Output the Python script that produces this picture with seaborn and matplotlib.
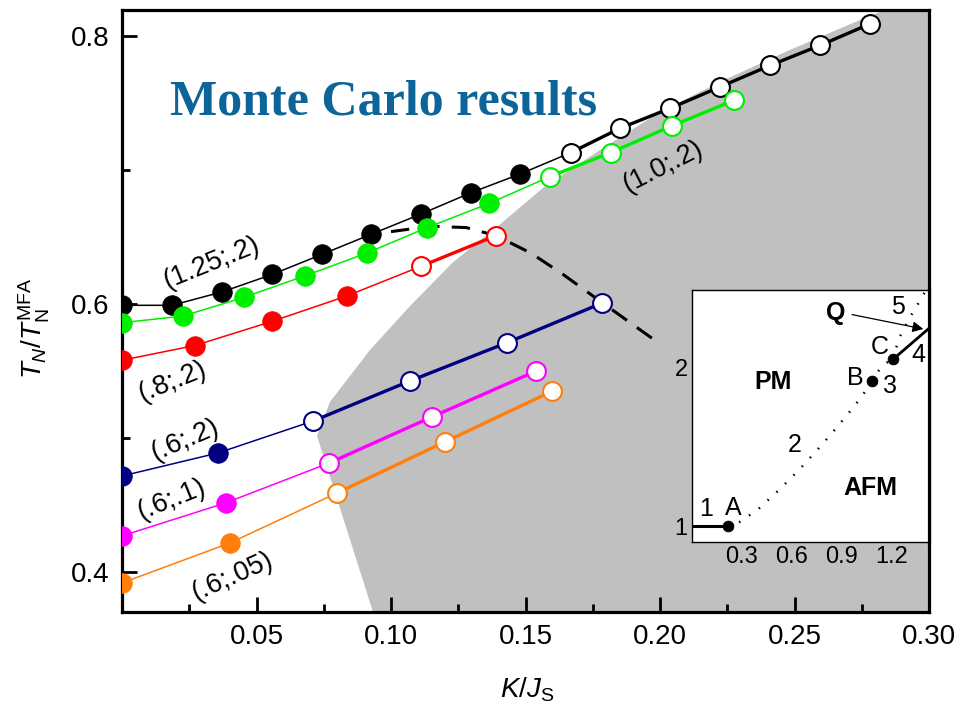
import matplotlib
matplotlib.use("Agg")
import matplotlib.pyplot as plt
import seaborn as sns
import pandas as pd
from matplotlib.ticker import MultipleLocator, FuncFormatter

# ---------------- data ----------------
# (1.25;.2)  black
k_125_fill = [0.0, 0.0186, 0.0372, 0.0558, 0.0743, 0.0926, 0.111, 0.1297, 0.148]
t_125_fill = [0.599, 0.599, 0.609, 0.622, 0.637, 0.652, 0.667, 0.683, 0.697]
k_125_open = [0.1669, 0.185, 0.2037, 0.2223, 0.2409, 0.2595, 0.278]
t_125_open = [0.713, 0.731, 0.746, 0.762, 0.778, 0.793, 0.809]
# (1.0;.2)  green
k_10_fill = [0.0, 0.0227, 0.0454, 0.068, 0.091, 0.1134, 0.1364]
t_10_fill = [0.586, 0.591, 0.605, 0.621, 0.638, 0.657, 0.675]
k_10_open = [0.159, 0.1817, 0.2045, 0.2275]
t_10_open = [0.695, 0.713, 0.733, 0.752]
# (.8;.2)  red
k_08_fill = [0.0, 0.0271, 0.0558, 0.0836]
t_08_fill = [0.558, 0.569, 0.587, 0.606]
k_08_open = [0.111, 0.139]
t_08_open = [0.628, 0.651]
# (.6;.2)  navy
k_0602_fill = [0.0, 0.0357]
t_0602_fill = [0.4716, 0.4888]
k_0602_open = [0.0711, 0.107, 0.143, 0.1785]
t_0602_open = [0.5127, 0.5425, 0.571, 0.6007]
# (.6;.1)  magenta
k_0601_fill = [0.0, 0.0385]
t_0601_fill = [0.4269, 0.4515]
k_0601_open = [0.077, 0.1152, 0.154]
t_0601_open = [0.4813, 0.5157, 0.550]
# (.6;.05)  orange
k_06005_fill = [0.0, 0.0401]
t_06005_fill = [0.3918, 0.4216]
k_06005_open = [0.080, 0.120, 0.160]
t_06005_open = [0.459, 0.497, 0.535]

series_labels = ["(1.25;.2)", "(1.0;.2)", "(.8;.2)", "(.6;.2)", "(.6;.1)", "(.6;.05)"]
series_colors = ["#000000", "#00EE00", "#FF0000", "#000080", "#FF00FF", "#FF7F0A"]

# dashed boundary
k_dash = [0.100, 0.115, 0.128, 0.139, 0.152, 0.164, 0.1785, 0.198]
t_dash = [0.654, 0.658, 0.657, 0.651, 0.638, 0.622, 0.601, 0.573]

# gray region boundary
k_gray = [0.0965, 0.0725, 0.0773, 0.0922, 0.1071, 0.1231, 0.1394, 0.1565, 0.1777,
          0.2000, 0.2223, 0.2483, 0.2743, 0.2855, 0.32, 0.32]
t_gray = [0.350, 0.5015, 0.5269, 0.5657, 0.5985, 0.6313, 0.6575, 0.6866, 0.7149,
          0.7433, 0.7657, 0.7896, 0.8119, 0.8209, 0.83, 0.35]

# inset (phase diagram)
ins_line1_x = [0.0, 0.216]
ins_line1_y = [1.0, 1.0]
ins_dots_x = [0.216, 0.274, 0.398, 0.524, 0.644, 0.760, 0.872, 0.976, 1.026, 1.084]
ins_dots_y = [1.0, 1.017, 1.106, 1.228, 1.354, 1.487, 1.622, 1.755, 1.823, 1.913]
ins_dots3_x = [1.084, 1.13, 1.17, 1.214]
ins_dots3_y = [1.913, 1.99, 2.03, 2.055]
ins_line4_x = [1.214, 1.43]
ins_line4_y = [2.055, 2.25]
ins_dots5_x = [1.214, 1.244, 1.28, 1.314, 1.354, 1.39, 1.42]
ins_dots5_y = [2.055, 2.18, 2.25, 2.32, 2.388, 2.456, 2.50]
ins_pts_x = [0.216, 1.084, 1.214]
ins_pts_y = [1.0, 1.913, 2.055]

# ---------------- style ----------------
sns.set_theme(style="white")
plt.rcParams["font.family"] = ["Liberation Sans", "DejaVu Sans"]
plt.rcParams["mathtext.fontset"] = "custom"
plt.rcParams["mathtext.rm"] = "Liberation Sans"
plt.rcParams["mathtext.it"] = "Liberation Sans:italic"
plt.rcParams["mathtext.bf"] = "Liberation Sans:bold"
for key in ["text.color", "axes.labelcolor", "xtick.color", "ytick.color", "axes.edgecolor"]:
    plt.rcParams[key] = "black"

fig = plt.figure(figsize=(9.6, 7.11), dpi=100)
ax = fig.add_axes([122 / 960, 1 - 612 / 711, 807 / 960, 602 / 711])

ax.fill(k_gray, t_gray, color="#C0C0C0", lw=0, zorder=0)

sns.lineplot(x=k_dash, y=t_dash, ax=ax, color="black", lw=2.2, sort=False,
             estimator=None, zorder=2).lines[-1].set_dashes([6, 4])

fills = [(k_125_fill, t_125_fill), (k_10_fill, t_10_fill), (k_08_fill, t_08_fill),
         (k_0602_fill, t_0602_fill), (k_0601_fill, t_0601_fill), (k_06005_fill, t_06005_fill)]
opens = [(k_125_open, t_125_open), (k_10_open, t_10_open), (k_08_open, t_08_open),
         (k_0602_open, t_0602_open), (k_0601_open, t_0601_open), (k_06005_open, t_06005_open)]

msize = 200
for (kf, tf), (ko, to), col in zip(fills, opens, series_colors):
    thin_k = list(kf) + [ko[0]]
    thin_t = list(tf) + [to[0]]
    sns.lineplot(x=thin_k, y=thin_t, ax=ax, color=col, lw=1.1, sort=False,
                 estimator=None, zorder=3)
    sns.lineplot(x=ko, y=to, ax=ax, color=col, lw=2.4, sort=False,
                 estimator=None, zorder=3)
    sns.scatterplot(x=kf, y=tf, ax=ax, s=msize, color=col, edgecolor=col,
                    linewidth=0.5, zorder=4)
    sns.scatterplot(x=ko, y=to, ax=ax, s=msize * 0.92, facecolor="white",
                    edgecolor=col, linewidth=1.5, zorder=4)

ax.set_xlim(0, 0.30)
ax.set_ylim(0.3701, 0.8194)
ax.xaxis.set_major_locator(MultipleLocator(0.05))
ax.xaxis.set_minor_locator(MultipleLocator(0.025))
ax.yaxis.set_major_locator(MultipleLocator(0.2))
ax.yaxis.set_minor_locator(MultipleLocator(0.1))
ax.xaxis.set_major_formatter(FuncFormatter(lambda v, p: "" if abs(v) < 1e-9 else f"{v:.2f}"))
ax.yaxis.set_major_formatter(FuncFormatter(lambda v, p: f"{v:.1f}"))
ax.tick_params(which="both", direction="in", top=False, right=False, left=True,
               bottom=True, width=2, colors="black")
ax.tick_params(which="major", length=11, labelsize=20, pad=9)
ax.tick_params(which="minor", length=6)
for s in ax.spines.values():
    s.set_linewidth(2.3)
    s.set_color("black")

ax.set_xlabel(r"$K/J_\mathrm{S}$", fontsize=20)
ax.xaxis.set_label_coords(0.502, -0.105)
ax.set_ylabel("")
fig.text(34 / 960, 1 - 328 / 711, r"$T_N/T_\mathrm{N}^\mathrm{MFA}$", fontsize=20,
         rotation=90, ha="center", va="center", color="black")

ax.text(0.0595, 0.8256, "Monte Carlo results", transform=ax.transAxes,
        fontsize=36, fontweight="bold", family="Liberation Serif",
        color="#0D6498", ha="left", va="baseline")

label_pos = [(0.0331, 0.6306, 22), (0.2011, 0.7022, 27), (0.0186, 0.5418, 22),
             (0.0234, 0.4985, 23), (0.0186, 0.4537, 22), (0.0409, 0.3963, 24)]
for lab, (x, y, rot) in zip(series_labels, label_pos):
    ax.text(x, y, lab, fontsize=19.5, rotation=rot, ha="center", va="center",
            rotation_mode="anchor", zorder=5, color="black")

# ---------------- inset ----------------
ins = fig.add_axes([692 / 960, 1 - 542 / 711, 237 / 960, 252 / 711])
ins.set_facecolor("white")
sns.lineplot(x=ins_line1_x, y=ins_line1_y, ax=ins, color="black", lw=2.2,
             sort=False, estimator=None)
sns.lineplot(x=ins_line4_x, y=ins_line4_y, ax=ins, color="black", lw=2.0,
             sort=False, estimator=None)
for xs, ys in [(ins_dots_x, ins_dots_y), (ins_dots3_x, ins_dots3_y), (ins_dots5_x, ins_dots5_y)]:
    sns.lineplot(x=xs, y=ys, ax=ins, color="black", lw=1.8, sort=False,
                 estimator=None).lines[-1].set_dashes([0.6, 4.2])
sns.scatterplot(x=ins_pts_x, y=ins_pts_y, ax=ins, s=60, color="black",
                edgecolor="black", zorder=5)
ins.set_xlim(0, 1.428)
ins.set_ylim(0.90, 2.49)
ins.xaxis.set_major_locator(MultipleLocator(0.3))
ins.xaxis.set_minor_locator(MultipleLocator(0.15))
ins.yaxis.set_major_locator(MultipleLocator(1.0))
ins.yaxis.set_minor_locator(MultipleLocator(0.5))
ins.xaxis.set_major_formatter(FuncFormatter(lambda v, p: "" if abs(v) < 1e-9 else f"{v:.1f}"))
ins.yaxis.set_major_formatter(FuncFormatter(lambda v, p: f"{v:.0f}"))
ins.tick_params(which="both", direction="in", top=False, right=False, width=1,
                colors="black")
ins.tick_params(which="major", length=5, labelsize=17, pad=3)
ins.tick_params(which="minor", length=3)
for s in ins.spines.values():
    s.set_linewidth(1.0)
    s.set_color("black")
ins.spines["right"].set_linewidth(2.3)

tkw = dict(fontsize=18, ha="center", va="center", color="black")
ins.text(0.084, 1.108, "1", **tkw)
ins.text(0.246, 1.114, "A", **tkw)
ins.text(0.618, 1.513, "2", **tkw)
ins.text(0.984, 1.937, "B", **tkw)
ins.text(1.194, 1.886, "3", **tkw)
ins.text(1.134, 2.133, "C", **tkw)
ins.text(1.362, 2.082, "4", **tkw)
ins.text(1.242, 2.38, "5", **tkw)
bkw = dict(fontsize=18, ha="center", va="center", fontweight="bold", color="black")
ins.text(0.864, 2.348, "Q", **bkw)
ins.text(0.486, 1.911, "PM", **bkw)
ins.text(1.074, 1.24, "AFM", **bkw)
ins.annotate("", xy=(1.394, 2.244), xytext=(0.964, 2.335),
             arrowprops=dict(arrowstyle="-|>", color="black", lw=0.9,
                             mutation_scale=16, shrinkA=0, shrinkB=0))

fig.savefig("out.png", dpi=100)
